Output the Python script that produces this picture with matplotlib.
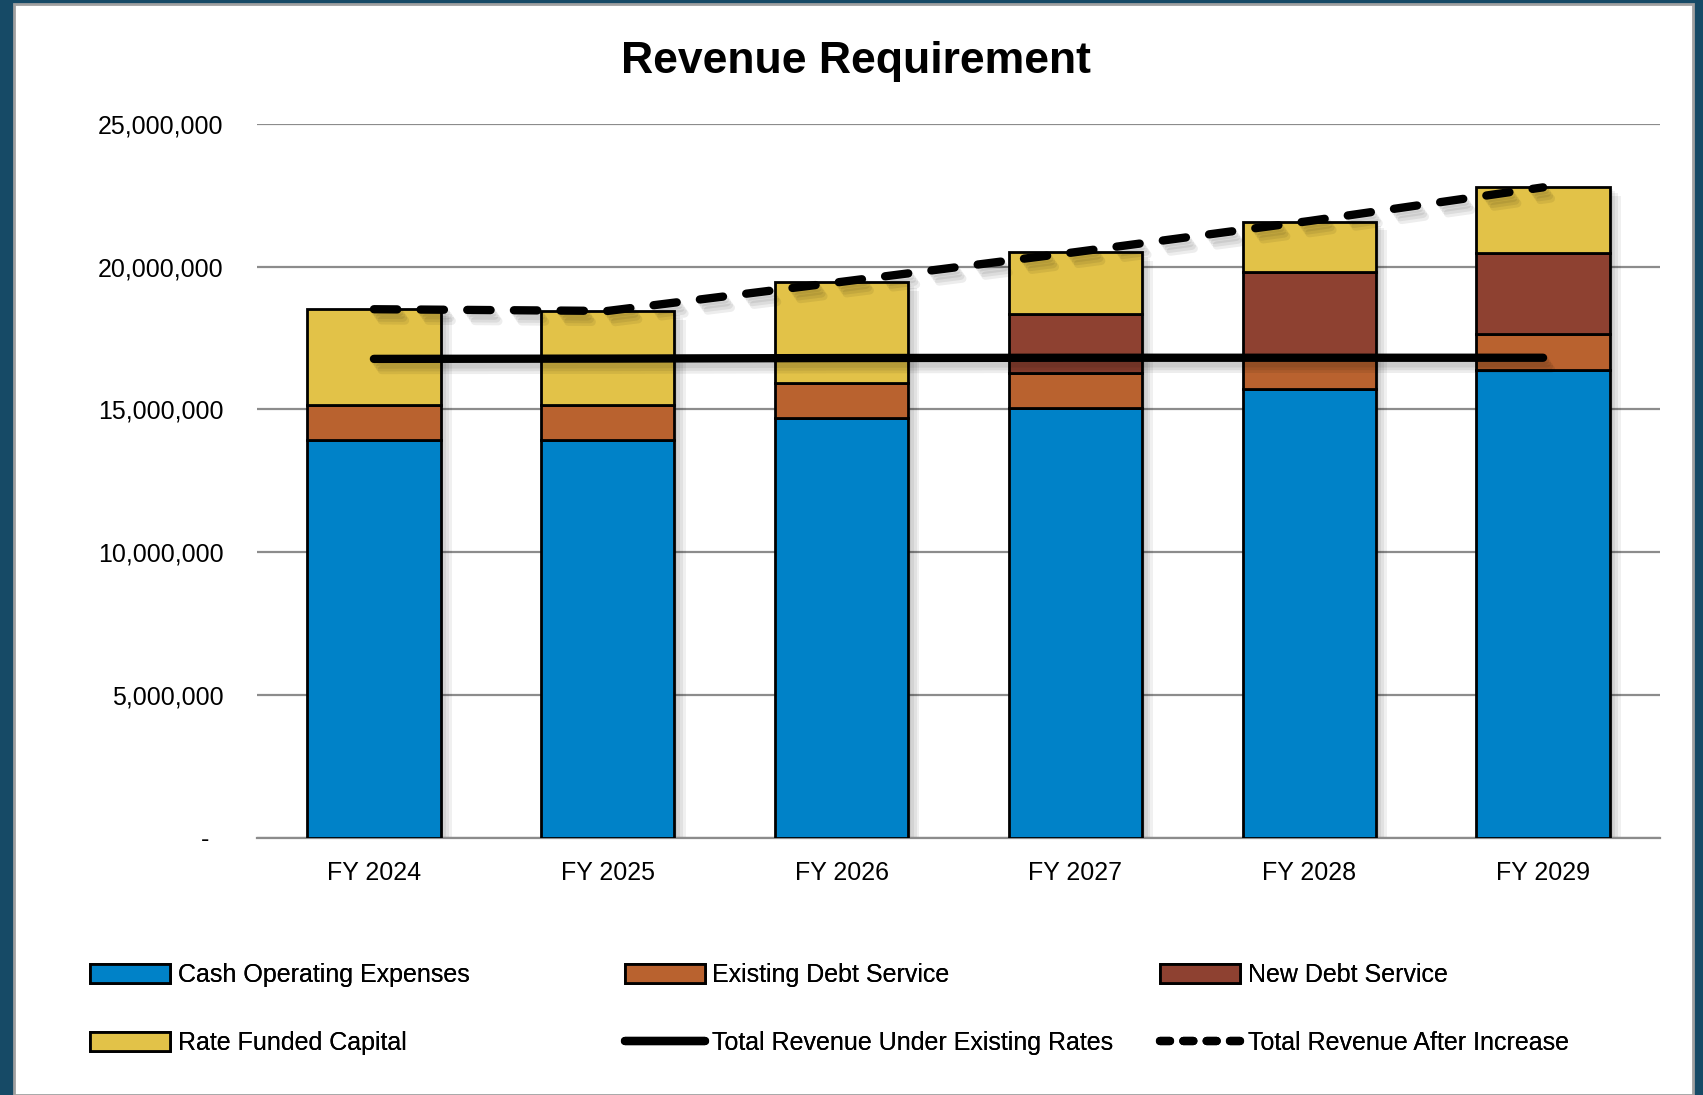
import matplotlib
matplotlib.use('Agg')
import matplotlib.pyplot as plt
import matplotlib.patheffects as pe
from matplotlib.patches import Rectangle, Patch
from matplotlib.lines import Line2D
from matplotlib.ticker import FuncFormatter
import numpy as np

plt.rcParams['font.family'] = ['Liberation Sans', 'DejaVu Sans']

years = ['FY 2024', 'FY 2025', 'FY 2026', 'FY 2027', 'FY 2028', 'FY 2029']
cash_opex = [13930000, 13930000, 14700000, 15050000, 15710000, 16380000]
existing_debt = [1220000, 1220000, 1210000, 1230000, 1200000, 1260000]
new_debt = [0, 0, 0, 2060000, 2900000, 2840000]
rate_capital = [3360000, 3300000, 3560000, 2170000, 1770000, 2320000]
rev_existing = [16770000, 16780000, 16800000, 16810000, 16810000, 16810000]
rev_after = [18510000, 18450000, 19470000, 20510000, 21600000, 22780000]

c_blue = '#0082c8'
c_orange = '#b9622f'
c_brown = '#8e4131'
c_yellow = '#e2c248'

fig = plt.figure(figsize=(17.03, 10.95), dpi=100, facecolor='#164a66')
# white panel behind everything
fig.patches.append(Rectangle((14/1703, 0), (1693-14)/1703, 1-4/1095, transform=fig.transFigure,
                             facecolor='white', edgecolor='#a0a0a0', linewidth=2, zorder=-5))

ax = fig.add_axes([257/1703, 1-837.5/1095, (1660-257)/1703, (837.5-124)/1095])
ax.set_facecolor('none')

x = np.arange(len(years))
# soft shadows: several faint offset copies
bar_shadow = [pe.SimplePatchShadow(offset=(o, -o * 0.8), shadow_rgbFace='black', alpha=0.06)
              for o in (2, 4, 6, 8)]
line_shadow = [pe.SimpleLineShadow(offset=(o * 0.7, -o), shadow_color='black', alpha=0.07)
               for o in (2, 4, 6, 8)] + [pe.Normal()]

totals = np.sum([cash_opex, existing_debt, new_debt, rate_capital], axis=0)
# shadow of the whole stack, drawn under the segments
ax.bar(x, totals, 0.57, color='black', linewidth=0, zorder=2, path_effects=bar_shadow)

bottom = np.zeros(len(years))
series = [(cash_opex, c_blue, 'Cash Operating Expenses'),
          (existing_debt, c_orange, 'Existing Debt Service'),
          (new_debt, c_brown, 'New Debt Service'),
          (rate_capital, c_yellow, 'Rate Funded Capital')]
for vals, col, name in series:
    vals = np.array(vals, dtype=float)
    bars = ax.bar(x, vals, 0.57, bottom=bottom, color=col, edgecolor='black', linewidth=2, zorder=3)
    for b, v in zip(bars, vals):
        if v <= 0:
            b.set_visible(False)
    bottom += vals

ax.plot(x, rev_existing, color='black', linewidth=6, solid_capstyle='round', zorder=5,
        path_effects=line_shadow)
ax.plot(x, rev_after, color='black', linewidth=6, linestyle=(0, (2.8, 2.8)), dash_capstyle='round',
        zorder=5, path_effects=line_shadow)

ax.set_xlim(-0.5, 5.5)
ax.set_ylim(0, 25000000)
ax.set_yticks(np.arange(0, 25000001, 5000000))
ax.yaxis.set_major_formatter(FuncFormatter(lambda v, p: '{:,.0f}'.format(v) if v > 0 else '-  '))
ax.set_xticks(x)
ax.set_xticklabels(years)
ax.tick_params(axis='both', length=0, labelsize=18)
ax.tick_params(axis='y', pad=24)
ax.tick_params(axis='x', pad=17)
ax.grid(axis='y', color='#8c8c8c', linewidth=1.6, zorder=0)
for s in ['top', 'right', 'left']:
    ax.spines[s].set_visible(False)
ax.spines['bottom'].set_color('#8c8c8c')
ax.spines['bottom'].set_linewidth(1.6)

fig.text(856/1703, 1-62/1095, 'Revenue Requirement', ha='center', va='center',
         fontsize=32, fontweight='bold')

# legend in three columns
cols = [
    [Patch(facecolor=c_blue, edgecolor='black', linewidth=2, label='Cash Operating Expenses'),
     Patch(facecolor=c_yellow, edgecolor='black', linewidth=2, label='Rate Funded Capital')],
    [Patch(facecolor=c_orange, edgecolor='black', linewidth=2, label='Existing Debt Service'),
     Line2D([], [], color='black', linewidth=6, solid_capstyle='round', label='Total Revenue Under Existing Rates')],
    [Patch(facecolor=c_brown, edgecolor='black', linewidth=2, label='New Debt Service'),
     Line2D([], [], color='black', linewidth=6, linestyle=(0, (1.2, 1.6)), dash_capstyle='round',
            label='Total Revenue After Increase')],
]
xs = [80, 615, 1150]
for hs, xp in zip(cols, xs):
    leg = fig.legend(handles=hs, loc='upper left', bbox_to_anchor=(xp/1703, 1-953/1095),
                     frameon=False, fontsize=18, handlelength=3.2, handleheight=0.8,
                     handletextpad=0.3, labelspacing=1.75, borderaxespad=0)
    fig.add_artist(leg)

fig.savefig('out.png', dpi=100, facecolor=fig.get_facecolor())
